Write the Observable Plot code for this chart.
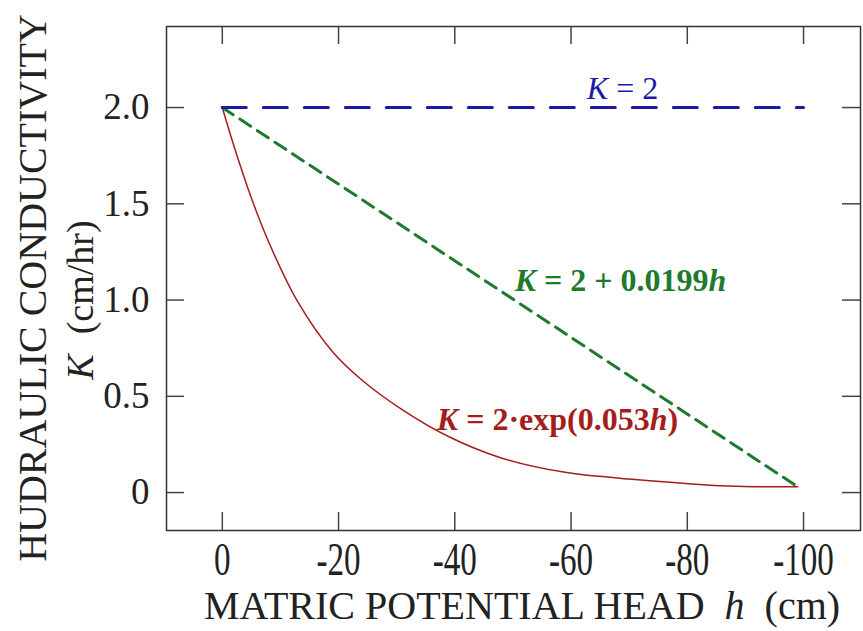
<!DOCTYPE html>
<html><head><meta charset="utf-8">
<script src="https://cdn.jsdelivr.net/npm/d3@7"></script>
<script src="https://cdn.jsdelivr.net/npm/@observablehq/plot@0.6"></script>
<style>body{margin:0;background:#fff}</style>
</head><body><div id="chart"></div>
<script>
// ---- data ----
const hConst = [0, -100];
const kConst = [2, 2];
const hLinear = [0, -99];
const kLinear = [2.0, 0.03];
const hExp = [0, -2, -5, -8, -13, -19, -24, -31, -39, -48, -59, -71, -87, -99];
const kExp = [2.0, 1.80, 1.53, 1.30, 0.99, 0.73, 0.585, 0.43, 0.29, 0.18, 0.105, 0.068, 0.034, 0.03];
const xTicks = [0, -20, -40, -60, -80, -100];
const xTickLabels = ["0", "-20", "-40", "-60", "-80", "-100"];
const yTicks = [0, 0.5, 1, 1.5, 2];
const yTickLabels = ["0", "0.5", "1.0", "1.5", "2.0"];
// annotation text parts: [text, italic]
const constLabel = [["K", true], [" = 2", false]];
const linearLabel = [["K", true], [" = 2 + 0.0199", false], ["h", true]];
const expLabel = [["K", true], [" = 2·exp(0.053", false], ["h", true], [")", false]];
// annotation anchors (data coords: h, K at baseline)
const constAt = [-62.8, 2.04];
const linearAt = [-50.4, 1.044];
const expAt = [-37, 0.32];
const xTitle = [["MATRIC POTENTIAL HEAD", false], ["h", true], ["(cm)", false]];
const yTitle1 = "HUDRAULIC CONDUCTIVITY";
const yTitle2 = [["K", true], ["(cm/hr)", false]];

// ---- layout ----
const W = 863, H = 631, mL = 166, mR = 3, mT = 26, mB = 101;
const innerW = W - mL - mR, innerH = H - mT - mB, tk = 18;
const font = "'Liberation Serif', 'Times New Roman', serif";

const rows = (xs, ys) => xs.map((x, i) => ({x, y: ys[i]}));

const plot = Plot.plot({
  width: W, height: H,
  marginLeft: mL, marginRight: mR, marginTop: mT, marginBottom: mB,
  style: {fontFamily: font, background: "#fff", color: "#222"},
  x: {domain: [9.6, -109.8]},
  y: {domain: [-0.197, 2.421]},
  marks: [
    Plot.axisX(xTicks, {tickSize: 0, tickPadding: 12, fontSize: 46, label: null,
      tickFormat: d => xTickLabels[xTicks.indexOf(d)], fill: "#222"}),
    Plot.axisY(yTicks, {tickSize: 0, tickPadding: 17, fontSize: 37, label: null,
      tickFormat: d => yTickLabels[yTicks.indexOf(d)], fill: "#222"}),
    Plot.tickX(xTicks, {x: d => d, insetTop: innerH - tk, stroke: "#444", strokeWidth: 1.5}),
    Plot.tickX(xTicks, {x: d => d, insetBottom: innerH - tk, stroke: "#444", strokeWidth: 1.5}),
    Plot.tickY(yTicks, {y: d => d, insetRight: innerW - tk, stroke: "#444", strokeWidth: 1.5}),
    Plot.tickY(yTicks, {y: d => d, insetLeft: innerW - tk, stroke: "#444", strokeWidth: 1.5}),
    Plot.line(rows(hExp, kExp), {x: "x", y: "y", stroke: "#a51d1d", strokeWidth: 1.5, curve: "catmull-rom"}),
    Plot.line(rows(hLinear, kLinear), {x: "x", y: "y", stroke: "#1d7a2e", strokeWidth: 3, strokeDasharray: "13 8"}),
    Plot.line(rows(hConst, kConst), {x: "x", y: "y", stroke: "#1a1aa6", strokeWidth: 3, strokeDasharray: "24 17"}),
    Plot.frame({stroke: "#333", strokeWidth: 1.5})
  ]
});

document.getElementById("chart").appendChild(plot);

// condense x tick labels horizontally as in reference
d3.select(plot).selectAll('g[aria-label="x-axis tick label"] text').each(function() {
  const t = this.getAttribute("transform") || "";
  this.setAttribute("transform", t + " scale(0.72,1)");
});

const sx = plot.scale("x"), sy = plot.scale("y");
const svg = d3.select(plot);

function addParts(sel, parts, gap) {
  parts.forEach(([s, it], i) => {
    const ts = sel.append("tspan").text(s);
    if (it) ts.attr("font-style", "italic");
    if (gap && i > 0) ts.attr("dx", gap);
  });
}
function annot(parts, at, color, weight) {
  const t = svg.append("text")
    .attr("x", sx.apply(at[0])).attr("y", sy.apply(at[1]))
    .attr("fill", color).attr("font-size", 32).attr("font-weight", weight)
    .attr("font-family", font).attr("text-anchor", "start");
  addParts(t, parts, 0);
}
annot(constLabel, constAt, "#1a1aa6", "normal");
annot(linearLabel, linearAt, "#1d7a2e", "bold");
annot(expLabel, expAt, "#a51d1d", "bold");

// x title
const xt = svg.append("text").attr("x", 522).attr("y", 619)
  .attr("text-anchor", "middle").attr("font-size", 40).attr("fill", "#222").attr("font-family", font);
addParts(xt, xTitle, 20);

// y titles
svg.append("text").attr("transform", "translate(46,288) rotate(-90)")
  .attr("text-anchor", "middle").attr("font-size", 40).attr("fill", "#222").attr("font-family", font)
  .text(yTitle1);
const yt2 = svg.append("text").attr("transform", "translate(93,300) rotate(-90)")
  .attr("text-anchor", "middle").attr("font-size", 38).attr("fill", "#222").attr("font-family", font);
addParts(yt2, yTitle2, 20);
</script>
</body></html>
